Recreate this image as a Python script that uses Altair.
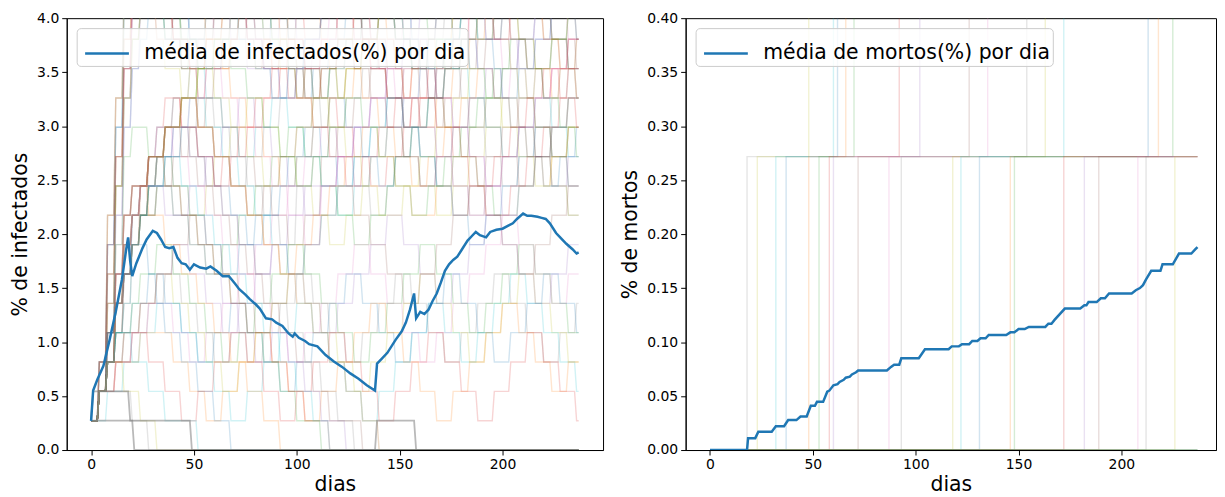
import altair as alt
import pandas as pd

# ---------------- data ----------------
N_POP = 368          # population size: 1 person = 100/368 %
SAMPLE_STEP = 4      # background runs are read every 4 days (value held until next reading)

# mean of infected (%) per day
days_inf_mean = [0, 1, 3, 6, 9, 12, 15, 17, 18, 19, 20, 22, 25, 27, 30, 32, 34, 36, 38, 40,
                 42, 44, 46, 48, 50, 53, 56, 58, 61, 64, 67, 70, 72, 75, 77, 80, 82, 85, 88, 90,
                 93, 96, 98, 99, 101, 104, 106, 110, 114, 118, 122, 126, 130, 134, 138, 139, 141, 144, 148, 151,
                 153, 155, 157, 158, 160, 162, 164, 166, 168, 170, 172, 174, 176, 178, 180, 183, 185, 187, 189, 192,
                 194, 197, 200, 203, 205, 207, 210, 212, 214, 217, 219, 221, 223, 226, 228, 231, 234, 236, 237]
inf_mean = [0.27, 0.55, 0.65, 0.78, 1.02, 1.28, 1.58, 1.85, 1.97, 1.75, 1.61, 1.73, 1.87, 1.95, 2.03, 2.01, 1.95, 1.88, 1.87, 1.88,
            1.78, 1.73, 1.72, 1.67, 1.72, 1.69, 1.68, 1.70, 1.66, 1.61, 1.61, 1.54, 1.49, 1.44, 1.40, 1.35, 1.31, 1.22, 1.21, 1.18,
            1.15, 1.08, 1.05, 1.08, 1.04, 1.01, 0.98, 0.96, 0.88, 0.82, 0.77, 0.71, 0.66, 0.60, 0.55, 0.80, 0.84, 0.90, 1.02, 1.10,
            1.18, 1.30, 1.45, 1.22, 1.28, 1.26, 1.30, 1.38, 1.45, 1.55, 1.66, 1.72, 1.76, 1.79, 1.85, 1.94, 1.98, 2.02, 1.99, 1.97,
            2.02, 2.04, 2.05, 2.08, 2.10, 2.14, 2.19, 2.17, 2.17, 2.16, 2.15, 2.14, 2.10, 2.01, 1.97, 1.91, 1.86, 1.82, 1.83]

# mean of dead (%) per day
days_dead_mean = [0, 18, 18.5, 22, 23.5, 30, 32, 36, 38, 42, 44, 47, 49, 51, 52, 55, 57, 58, 60, 62,
                  63, 65, 66, 68, 69, 71, 72, 86, 88, 89.5, 92, 93, 101.5, 104.5, 116, 117.5, 121, 122.5, 126, 127.5,
                  130, 131.5, 134, 135.5, 144, 146, 148, 150, 153, 155, 163, 164.5, 166, 167.5, 172.5, 180, 182, 183, 184, 188,
                  190, 192, 194, 205, 207, 209, 210.5, 212, 214.5, 219, 220, 225, 228, 234, 236, 237]
dead_mean = [0.0, 0.0, 0.011, 0.011, 0.017, 0.017, 0.022, 0.022, 0.0277, 0.0277, 0.031, 0.031, 0.041, 0.041, 0.0446, 0.0446, 0.054, 0.055, 0.060, 0.061,
             0.063, 0.065, 0.067, 0.068, 0.070, 0.072, 0.0737, 0.0737, 0.077, 0.079, 0.079, 0.085, 0.085, 0.0934, 0.0934, 0.096, 0.096, 0.098, 0.098, 0.101,
             0.101, 0.1035, 0.1035, 0.1066, 0.1066, 0.109, 0.109, 0.112, 0.112, 0.114, 0.114, 0.117, 0.117, 0.1205, 0.131, 0.131, 0.134, 0.134, 0.137, 0.137,
             0.1405, 0.1405, 0.145, 0.145, 0.148, 0.150, 0.1527, 0.158, 0.166, 0.166, 0.172, 0.172, 0.182, 0.182, 0.186, 0.188]

# background simulation runs: infected count every 4 days (base-36 digits)
inf_runs = [
    # runs that stay high (often above the 4 % top)
    "137bfhiihg gfgfhgihgf fegfedeefg hgfeefgfed dcdeefgfee fgghgfeedd",
    "126aegijih gfhgiihgfe dedefggfed ccdeefedcd dedeffgghh gfeeddcdde",
    "138cghhgfe fdeeffgghi hggfeeddcd cddeefghgf feedeffeef ghhgffeedc",
    "1259dfggff eedcddeeff gghhgfeeff ggfeddccbc cdcddeeffe efggffeedd",
    "137bdfghih ihhgfgfeed deeffedccd deefggfeef fgghhggffe eddcddeeff",
    "1249cefffe eddccddeef fgfgghhgff eedeeffeed ccbccddeef fgfgfeeded",
    "138cgijjih hgfgfeeffg hhgfeeddee ffgfeddcdd eeffgfeddc cdeeffgfee",
    "126adfgggf feedeffghg ffeeddccdd eeffggfeed deeffgghgf feeddccdde",
    "1259ceffed dccdeeffgf feeddccbbc cddeeffeed ddeefffgfe eddcddeeff",
    "137bfhhgfe eeffggffee ddccddeeff gghggffeed deffeeddcc ddeeffggff",
    "1248bdefff gfeeddeeff eddccdcdde effgghgffe eddeeffeed ccddeefffe",
    "138cfhijih ggffeedeff ggfeedccdd eeffeeddcc bbccddeeff gghgfeeddc",
    "1259cefggf feeddeeffg ffeedcdccd deeffgffee ddcddeeffg gfeeddeeff",
    "137adgghgf eeddeefggf eeddccddee ffeeddccbc ccddeeffgf feeddcddee",
    "1247bdfhih gfeeffggfe edccddeeff ggffeeddee ffgghggffe eeddeeffgg",
    "136aeghhgf eddeeffgfe eddeeffghh ggfeedccdd eeffeeddee ffgghhggfe",
    "1258cfgfee ffgghggffe eddccddeef ffeeddeeff gghhggffee ddeeffggff",
    # runs in the middle band
    "1246899aab bccbbaa99a abbccddcbb aa99889aab bccddcbbaa 99aabbccdd",
    "12357889aa 99889aabbc cbbaa99887 7889aabbaa 998899aabb ccbbaa9988",
    "1235689abb ccddccbbaa bbccbbaa99 8899aabbcc ddeeddccbb aabbccbbaa",
    "12456789aa 9988776677 8899aabbaa 99aabbccbb aa99887788 99aabbaa99",
    "12346789ab bcddeddccb baa99aabbc cddccbbaa9 9aabbccddc cbbaa9aabb",
    "1235678899 8877667788 99aabbaa99 8877889aab bccbbaa998 8899aabbcc",
    "1245789abc cbbaa9aabb ccddeeddcc bbaa99aabb ccbbaa9988 899aabbcdd",
    "12356789aa bbaa998877 6677889999 aabbccbbaa 99aabbccdd ccbbaa99aa",
    "1234578899 aabbccbbaa 99887788aa bbccddccbb aa998899aa bbccbbaa99",
    "1246789abb aa99887766 778899aabb aa99aabbcc ddccbbaa99 aabbccddee",
    "123567889a abbccbbaa9 9887799aab bccddeedcc bbaa998899 aabbaa9988",
    "1235679aab bccddccbba a99aabbccb baa9988899 aabbccddcc bbaa99aabb",
    "12457899aa bbccbbaa99 8877667788 99aabbccbb aa99aabbcc ddccbbaabb",
    "123468899a abbaa99887 78899aabbc cbbaa99aab bccddeeddc cbbaa99aab",
    "1235789aab bccbbaa998 8776677889 9aabbaa998 8899aabbcc ddccbbaabb",
    "12356789ab bccddeeddc cbbaa99aab bccbbaa998 899aabbccd deeddccbba",
    "1235689aab cbbaa99aab bccddccbba a99aabbccd dccbbaa99a abbccddccb",
    "1246789998 8899aabbcc bbaa998899 aabbccddee ddccbbaa99 8899aabbcc",
    "1234678aab bccbbaa998 899aabbcdd eeddccbbaa 99aabbccbb aa99aabbcc",
    "12357899aa bbccddccbb aa99887799 aabbccddcc bbaa998899 aabbccdddc",
    # runs in the low band
    "1223344556 6554433443 3445566554 4334455665 5443344556 6554433445",
    "1233445566 5544332233 4455665544 3322334455 6655443344 5566554433",
    "1122334455 5443322112 2334455443 3221122334 4554433445 5665544332",
    "1234455665 5443344554 4332233445 5665544334 4556655443 3445566554",
    "1223334444 3322112233 4433221122 3344554433 2211223344 5544332233",
    "1234456677 6655443344 5566776655 4433445566 7766554455 6677665544",
    "1223344332 2112233443 3221122334 4332211223 3443322112 2334433221",
    "1233445566 7766554455 6677665544 5566778877 6655667788 7766556677",
    "1233445566 7788776655 4455667788 9988776655 6677889988 7766778899",
    "1223344555 4433445566 5544334455 6677665544 3344556677 8877665566",
    # runs that die out
    "1222211000 0000000000 0000000000 0000000000 0000000000 0000000000",
    "1233221100 0000000000 0000000000 0000000000 0000000000 0000000000",
    "1234433221 1110000000 0000000000 0000000000 0000000000 0000000000",
    "1235677654 4332211000 0000000000 0000000000 0000000000 0000000000",
    "1236899887 7665544332 2110000000 0000000000 0000000000 0000000000",
    "1247abbaa9 9887766554 4332211100 0000000000 0000000000 0000000000",
    "1236899aa9 9887766554 4433221110 0000000000 0000000000 0000000000",
    "1235789999 8877665544 3344332211 1000000000 0000000000 0000000000",
    "1246899aab baa9988776 6554433221 1110000000 0000000000 0000000000",
    "1235679aab bccbbaa998 8776655443 3221100000 0000000000 0000000000",
    "1236899aab bbaa998877 6655443322 1100000000 0000000000 0000000000",
    "1235789aab bccbbaa998 8776655443 3221100000 0000000000 0000000000",
    "123457899a a998877665 5443322110 0000000000 0000000000 0000000000",
]

# clearly visible grey runs near the bottom of the infected panel (day, count)
grey_run_days = [[0, 1, 18, 19, 48, 49, 237], [0, 20, 21, 138, 139, 157, 158, 237]]
grey_run_counts = [[1, 2, 2, 1, 1, 0, 0], [1, 1, 0, 0, 1, 1, 0, 0]]

# background runs of deaths: day of 1st and 2nd death (None = never)
death_first = [18, 23, 32, 37, 48, 53, 58, 60, 72, 87, 93, 118, 122, 131, 146, 148,
               172, 182, 189, 208, 212, 226, None, None, None, None]
death_second = [None, 48, 60, 62, 66, 70, 92, 102, 126, 135, 154, 163, 172, 213, 218, 225,
                None, None, None, None, None, None, None, None, None, None]
LAST_DAY = 237

tab10 = ["#1f77b4", "#ff7f0e", "#2ca02c", "#d62728", "#9467bd",
         "#8c564b", "#e377c2", "#7f7f7f", "#bcbd22", "#17becf"]
dead_colors = tab10[7:] + tab10[:7]

# ---------------- tables ----------------
rows = []
for i, s in enumerate(inf_runs):
    s = s.replace(" ", "")
    for j, ch in enumerate(s):
        v = int(ch, 36) * 100 / N_POP
        d0 = j * SAMPLE_STEP
        # each reading is held for the sampling interval, changes take one day
        rows.append({"run": f"r{i:02d}", "dia": d0, "pct": v})
        rows.append({"run": f"r{i:02d}", "dia": min(d0 + SAMPLE_STEP - 1, LAST_DAY), "pct": v})
inf_runs_df = pd.DataFrame(rows)

rows = []
for i, (ds, cs) in enumerate(zip(grey_run_days, grey_run_counts)):
    for d, c in zip(ds, cs):
        rows.append({"run": f"g{i}", "dia": d, "pct": c * 100 / N_POP})
grey_df = pd.DataFrame(rows)

rows = []
for i, (f, s) in enumerate(zip(death_first, death_second)):
    pts = [(0, 0)]
    cnt = 0
    if f is not None:
        cnt = 1
        pts.append((f, 1))
    if s is not None:
        cnt = 2
        pts.append((s, 2))
    pts.append((LAST_DAY, cnt))
    for d, c in pts:
        rows.append({"run": f"d{i:02d}", "dia": d, "pct": c * 100 / N_POP})
dead_runs_df = pd.DataFrame(rows)

inf_mean_df = pd.DataFrame({"dia": days_inf_mean, "pct": inf_mean,
                            "serie": "média de infectados(%) por dia"})
dead_mean_df = pd.DataFrame({"dia": days_dead_mean, "pct": dead_mean,
                             "serie": "média de mortos(%) por dia"})

# ---------------- chart ----------------
FONT = "DejaVu Sans"
TITLE_SIZE = 20.5


def xenc(domain):
    return alt.X("dia:Q", scale=alt.Scale(domain=domain, nice=False, zero=False),
                 axis=alt.Axis(values=[0, 50, 100, 150, 200], format="d", title="dias",
                               titlePadding=3))


def yenc(top, step, fmt, title):
    n = int(round(top / step))
    return alt.Y("pct:Q", scale=alt.Scale(domain=[0, top], nice=False),
                 axis=alt.Axis(values=[round(k * step, 3) for k in range(n + 1)], format=fmt,
                               title=title, titlePadding=6))


legend = alt.Legend(title=None, orient="top-left", offset=10, fillColor="rgba(255,255,255,0.8)",
                    strokeColor="#cccccc", cornerRadius=4, padding=2, symbolOffset=5,
                    labelFontSize=TITLE_SIZE, labelFont=FONT, labelColor="black",
                    symbolType="stroke", labelLimit=0, symbolStrokeWidth=2.5,
                    symbolSize=1936, labelOffset=14)


def panel(runs_df, mean_df, domain, top, step, fmt, title, width, interp, colors, extra=None):
    x = xenc(domain)
    y = yenc(top, step, fmt, title)
    runs = alt.Chart(runs_df).mark_line(clip=True, strokeWidth=1.4, opacity=0.2,
                                         interpolate=interp).encode(
        x=x, y=y,
        color=alt.Color("run:N", scale=alt.Scale(range=colors), legend=None),
    )
    layers = [runs]
    if extra is not None:
        layers.append(alt.Chart(extra).mark_line(clip=True, strokeWidth=1.8, opacity=0.55,
                                                  color="#7f7f7f").encode(x=x, y=y, detail="run:N"))
    mean = alt.Chart(mean_df).mark_line(clip=True, strokeWidth=2.5).encode(
        x=x, y=y,
        color=alt.Color("serie:N", scale=alt.Scale(range=["#1f77b4"]), legend=legend),
    )
    layers.append(mean)
    return alt.layer(*layers).resolve_scale(color="independent").properties(width=width, height=434)


left = panel(inf_runs_df, inf_mean_df, [-11.85, 248.85], 4.0, 0.5, ".1f", "% de infectados",
             539, "linear", tab10, grey_df)
right = panel(dead_runs_df, dead_mean_df, [-11.85, 246.0], 0.4, 0.05, ".2f", "% de mortos",
              533, "step-after", dead_colors)

chart = alt.hconcat(left, right, spacing=16).properties(
    padding={"left": 2, "top": 1, "right": 0, "bottom": 0}
).configure(font=FONT).configure_view(
    stroke="black", strokeWidth=1
).configure_axis(
    domainColor="black", tickColor="black", labelColor="black", titleColor="black",
    labelFontSize=14, titleFontSize=TITLE_SIZE, titleFontWeight="normal", tickSize=5,
    labelPadding=3, grid=False, labelFont=FONT, titleFont=FONT
)

chart.save("out.html", embed_options={"renderer": "svg", "actions": False})
